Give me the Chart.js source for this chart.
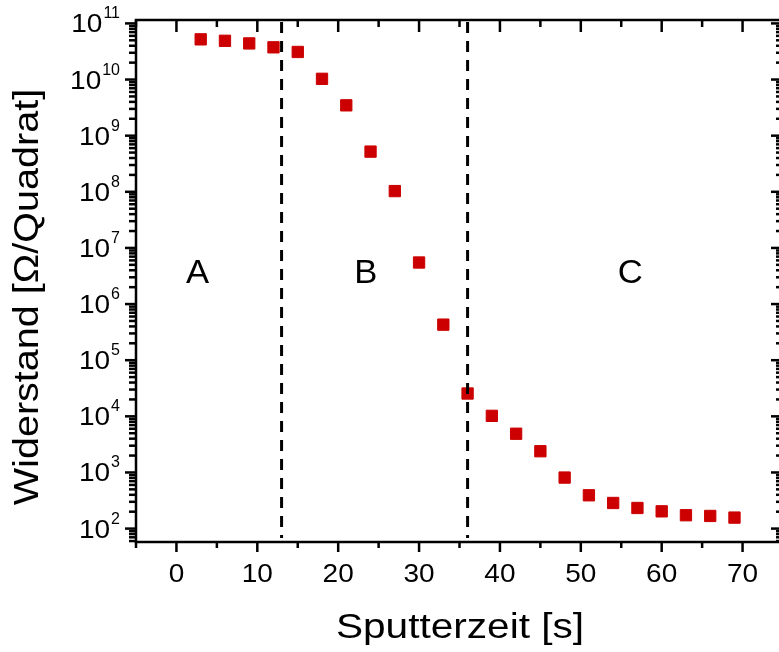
<!DOCTYPE html>
<html>
<head>
<meta charset="utf-8">
<script src="https://cdn.jsdelivr.net/npm/chart.js@4"></script>
<style>
  html, body { margin: 0; padding: 0; background: #fff; overflow: hidden; }
  #wrap { width: 779px; height: 652px; overflow: hidden; }
</style>
</head>
<body>
<div id="wrap"><canvas id="chart" width="792" height="652"></canvas></div>
<script>
// measured points: sputter time [s] vs sheet resistance [Ohm/sq]
var sputterTime = [3, 6, 9, 12, 15, 18, 21, 24, 27, 30, 33, 36, 39, 42, 45, 48, 51, 54, 57, 60, 63, 66, 69];
var resistance = [5.2e10, 4.9e10, 4.4e10, 3.75e10, 3.1e10, 1.03e10, 3.47e9, 5.2e8, 1.03e8, 5.5e6, 4.3e5,
                  2.55e4, 1.02e4, 4.9e3, 2.39e3, 811, 392, 286, 233, 203, 173, 168, 157];

// axes
var xTickValues = [0, 10, 20, 30, 40, 50, 60, 70];
var yDecades = [2, 3, 4, 5, 6, 7, 8, 9, 10, 11];
var xTitle = 'Sputterzeit [s]';
var yTitle = 'Widerstand [\u03A9/Quadrat]';

// regions
var boundaryTimes = [13, 36];
var regionNames = ['A', 'B', 'C'];
var regionTimes = [2.6, 23.4, 56.1];
var regionLevel = 3.9e6;

var FONT = '"Liberation Sans", Arial, sans-serif';

function stretchText(ctx, txt, x, y, size, sx, align, rot) {
  ctx.save();
  ctx.translate(x, y);
  if (rot) ctx.rotate(rot);
  ctx.scale(sx, 1);
  ctx.font = size + 'px ' + FONT;
  ctx.textAlign = align;
  ctx.textBaseline = 'alphabetic';
  ctx.fillText(txt, 0, 0);
  ctx.restore();
}

function line(ctx, x1, y1, x2, y2) {
  ctx.beginPath();
  ctx.moveTo(x1, y1);
  ctx.lineTo(x2, y2);
  ctx.stroke();
}

// draws the Origin-style frame, ticks, labels and the region markers
var framePlugin = {
  id: 'frame',
  afterDatasetsDraw: function(chart) {
    var ctx = chart.ctx;
    var a = chart.chartArea;
    var xs = chart.scales.x, ys = chart.scales.y;
    ctx.save();
    ctx.strokeStyle = '#000';
    ctx.fillStyle = '#000';

    // dashed region boundaries
    ctx.lineWidth = 3;
    ctx.setLineDash([11, 8]);
    boundaryTimes.forEach(function(t) {
      var px = xs.getPixelForValue(t);
      line(ctx, px, a.top + 2, px, a.bottom - 4);
    });
    ctx.setLineDash([]);

    // box
    ctx.lineWidth = 2.5;
    ctx.strokeRect(a.left, a.top, a.right - a.left, a.bottom - a.top);

    // x ticks (bottom outward, top inward)
    ctx.lineWidth = 2.5;
    for (var v = xs.min; v <= xs.max; v += 5) {
      var px = xs.getPixelForValue(v);
      var major = (v % 10 === 0);
      var len = major ? 10 : 6;
      line(ctx, px, a.bottom, px, a.bottom + len);
      line(ctx, px, a.top, px, a.top + (major ? 12 : 7));
    }
    // y ticks (left outward, right inward)
    for (var d = 1; d <= 11; d++) {
      for (var m = 1; m <= 9; m++) {
        var val = m * Math.pow(10, d);
        if (val < ys.min || val > ys.max) continue;
        var py = ys.getPixelForValue(val);
        var major = (m === 1);
        line(ctx, a.left - (major ? 11 : 7), py, a.left, py);
        line(ctx, a.right - (major ? 12 : 7), py, a.right, py);
      }
    }

    // x tick labels
    xTickValues.forEach(function(t) {
      stretchText(ctx, String(t), xs.getPixelForValue(t), 582, 25, 1.12, 'center');
    });
    // y tick labels 10^n
    yDecades.forEach(function(n) {
      var py = ys.getPixelForValue(Math.pow(10, n));
      ctx.font = '16px ' + FONT;
      var ew = ctx.measureText(String(n)).width;
      stretchText(ctx, String(n), 120 - ew, py - 5, 16, 1, 'left');
      stretchText(ctx, '10', 119 - ew, py + 9, 25, 1.12, 'right');
    });

    // axis titles
    stretchText(ctx, xTitle, 460, 638, 35, 1.16, 'center');
    stretchText(ctx, yTitle, 38, 297, 35, 1.13, 'center', -Math.PI / 2);

    // region names
    regionNames.forEach(function(name, i) {
      stretchText(ctx, name, xs.getPixelForValue(regionTimes[i]), ys.getPixelForValue(regionLevel) + 12, 33, 1.05, 'center');
    });
    ctx.restore();
  }
};

var chart = new Chart(document.getElementById('chart'), {
  type: 'scatter',
  data: {
    datasets: [{
      data: sputterTime.map(function(t, i) { return { x: t, y: resistance[i] }; }),
      pointStyle: 'rect',
      pointRadius: 8,
      pointHoverRadius: 8,
      backgroundColor: '#cc0000',
      borderColor: '#cc0000',
      borderWidth: 1
    }]
  },
  options: {
    responsive: false,
    animation: false,
    layout: { padding: { left: 136, top: 20, right: 6.7, bottom: 110 } },
    plugins: { legend: { display: false }, tooltip: { enabled: false } },
    scales: {
      x: { type: 'linear', min: -5, max: 75, display: false },
      y: { type: 'logarithmic', min: 57.7, max: 1.15e11, display: false }
    }
  },
  plugins: [framePlugin]
});
</script>
</body>
</html>
